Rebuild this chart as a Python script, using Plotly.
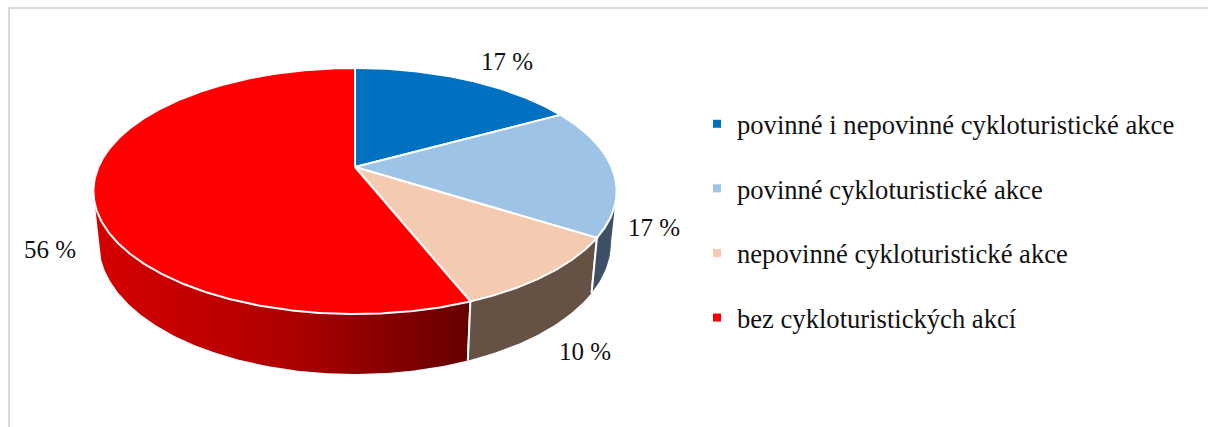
import numpy as np
import plotly.graph_objects as go

categories = ["povinné i nepovinné cykloturistické akce", "povinné cykloturistické akce",
              "nepovinné cykloturistické akce", "bez cykloturistických akcí"]
values = [17, 17, 10, 56]
top_colors = ["#0070c0", "#9dc3e6", "#f4cbb0", "#ff0000"]
label_x = [507, 654, 585, 50]
label_y = [61, 227, 351, 249]

CX, K = 355, 0.195
TOP = dict(a=256.6, b=118.4, y0=167)
BOT = dict(a=251, b=125.9, y0=217.6)
SILH_R, SILH_L = 101.2, 258.8


def arc(t0, t1, d):
    t = np.radians(np.linspace(t0, t1, max(int(abs(t1 - t0) * 2), 2)))
    u, v = np.sin(t), np.cos(t)
    w = 1 + K * v
    return CX + d["a"] * u / w, d["y0"] - d["b"] * v / w


edges = np.concatenate([[0], np.cumsum(values)]) * 3.6
WHITE = dict(color="white", width=2)
fig = go.Figure()


def wall(t0, t1, **fill):
    xa, ya = arc(t0, t1, TOP)
    xb, yb = arc(t1, t0, BOT)
    fig.add_trace(go.Scatter(x=np.r_[xa, xb, xa[0]], y=np.r_[ya, yb, ya[0]], mode="lines", fill="toself",
                             line=dict(color="rgba(0,0,0,0)", width=0), showlegend=False, hoverinfo="skip", **fill))
    for t in (t0, t1):
        if t not in (SILH_R, SILH_L):
            xe = [arc(t, t + 1, TOP)[0][0], arc(t, t + 1, BOT)[0][0]]
            ye = [arc(t, t + 1, TOP)[1][0], arc(t, t + 1, BOT)[1][0]]
            fig.add_trace(go.Scatter(x=xe, y=ye, mode="lines", line=WHITE, showlegend=False, hoverinfo="skip"))


wall(edges[3], SILH_L, fillgradient=dict(type="horizontal", start=95, stop=469,
                                         colorscale=[[0, "#d60000"], [0.5, "#b00000"], [1, "#660000"]]))
wall(edges[2], edges[3], fillcolor="#655244")
wall(SILH_R, edges[2], fillcolor="#3e5066")

for i, c in enumerate(top_colors):
    xs, ys = arc(edges[i], edges[i + 1], TOP)
    fig.add_trace(go.Scatter(x=np.r_[CX, xs, CX], y=np.r_[TOP["y0"], ys, TOP["y0"]], mode="lines", fill="toself",
                             fillcolor=c, line=WHITE, showlegend=False, hoverinfo="skip"))

for i, (name, c) in enumerate(zip(categories, top_colors)):
    fig.add_trace(go.Scatter(x=[None], y=[None], mode="markers", name=name, legendgroup=str(i),
                             marker=dict(symbol="square", size=8, color=c)))

# frame
fig.add_trace(go.Scatter(x=[9, 9, 1208], y=[427, 8, 8], mode="lines", line=dict(color="#d9d9d9", width=2),
                         showlegend=False, hoverinfo="skip"))

for x, y, v in zip(label_x, label_y, values):
    fig.add_annotation(x=x, y=y, text=f"{v} %", showarrow=False, xanchor="center", yanchor="middle",
                       font=dict(family="Liberation Serif", size=25, color="#111111"))

fig.update_layout(
    width=1208, height=427, margin=dict(l=0, r=0, t=0, b=0), autosize=False,
    paper_bgcolor="white", plot_bgcolor="white",
    xaxis=dict(range=[0, 1208], visible=False, fixedrange=True),
    yaxis=dict(range=[427, 0], visible=False, fixedrange=True),
    font=dict(family="Liberation Serif", size=26.6, color="#111111"),
    legend=dict(x=697 / 1208, xanchor="left", y=1 - 100 / 427, yanchor="top", bgcolor="rgba(0,0,0,0)",
                tracegroupgap=27, itemwidth=30),
)
fig.write_html("out.html", post_script="document.body.style.margin='0';", config={"displayModeBar": False})
